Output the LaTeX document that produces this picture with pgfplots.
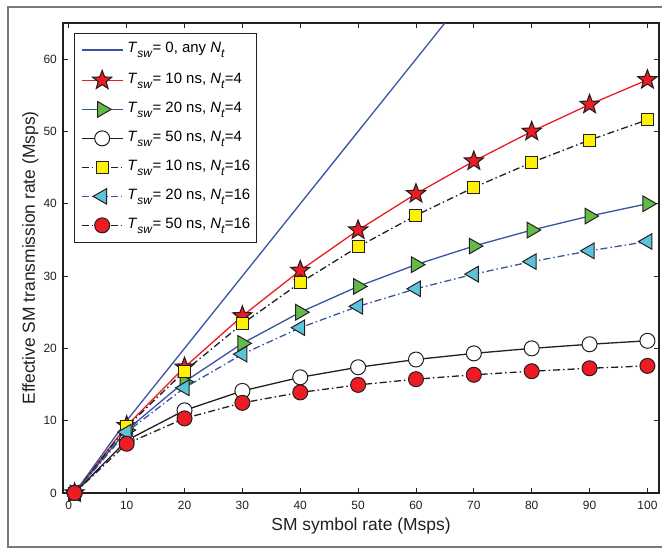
\documentclass[border=0pt]{standalone}
\usepackage{fontspec}
\setmainfont{Liberation Sans}
\usepackage{pgfplots}
\pgfplotsset{compat=1.18}

\definecolor{mblue}{HTML}{3953A4}
\definecolor{mred}{HTML}{ED1C24}
\definecolor{mgreen}{HTML}{62BB47}
\definecolor{mcyan}{HTML}{5CC4DA}
\definecolor{myellow}{HTML}{FFF200}
\definecolor{medge}{HTML}{231F20}
\definecolor{mframe}{HTML}{7A7A7A}

\pgfdeclareplotmark{fstar}{%
  \pgfpathmoveto{\pgfpointpolar{90}{\pgfplotmarksize}}%
  \pgfpathlineto{\pgfpointpolar{126}{0.42\pgfplotmarksize}}%
  \pgfpathlineto{\pgfpointpolar{162}{\pgfplotmarksize}}%
  \pgfpathlineto{\pgfpointpolar{198}{0.42\pgfplotmarksize}}%
  \pgfpathlineto{\pgfpointpolar{234}{\pgfplotmarksize}}%
  \pgfpathlineto{\pgfpointpolar{270}{0.42\pgfplotmarksize}}%
  \pgfpathlineto{\pgfpointpolar{306}{\pgfplotmarksize}}%
  \pgfpathlineto{\pgfpointpolar{342}{0.42\pgfplotmarksize}}%
  \pgfpathlineto{\pgfpointpolar{18}{\pgfplotmarksize}}%
  \pgfpathlineto{\pgfpointpolar{54}{0.42\pgfplotmarksize}}%
  \pgfpathclose
  \pgfusepathqfillstroke
}

\newcommand{\sub}[1]{\raisebox{-5bp}{\fontsize{12}{12}\selectfont\textit{#1}}}
\newcommand{\Tsw}{\textit{T}\sub{sw}}
\newcommand{\Nt}{\textit{N}\sub{t}}

\pgfplotstableread{
x s1 s2 s3 s4 s5 s6 s0
1   0     0     0     0     0     0     0
10  9.30  8.70  7.27  9.14  8.42  6.81  10
20  17.39 15.38 11.43 16.84 14.55 10.32 20
30  24.49 20.69 14.12 23.41 19.20 12.47 30
40  30.77 25.00 16.00 29.09 22.86 13.91 40
50  36.36 28.57 17.39 34.04 25.81 14.95 50
60  41.38 31.58 18.46 38.40 28.24 15.74 60
70  45.90 34.15 19.31 42.26 30.27 16.35 70
80  50.00 36.36 20.00 45.71 32.00 16.84 80
90  53.73 38.30 20.57 48.81 33.49 17.25 90
100 57.14 40.00 21.05 51.61 34.78 17.58 100
}\datatab

\begin{document}
\begin{tikzpicture}
\useasboundingbox (-63bp,-55bp) rectangle (599bp,493bp);
\draw[mframe, line width=1.4bp] (-55bp,-54bp) rectangle (610bp,486bp);
\begin{axis}[
  at={(0,0)}, anchor=south west,
  scale only axis, width=596bp, height=470bp,
  xmin=-1, xmax=102, ymin=0, ymax=65,
  xtick={0,10,...,100}, ytick={0,10,...,60},
  tick align=inside, major tick length=5bp,
  axis line style={draw=medge, line width=1.1bp},
  every tick/.style={draw=medge, line width=0.9bp},
  /pgf/number format/assume math mode=true,
  tick label style={font=\fontsize{12}{13}\selectfont, text=medge},
  xticklabel style={anchor=base, inner sep=0pt, yshift=-16bp},
  yticklabel style={anchor=east, inner sep=0pt, xshift=-6bp},
  label style={font=\fontsize{17.5}{20}\selectfont, text=medge},
  xlabel={SM symbol rate (Msps)},
  ylabel={Effective SM transmission rate (Msps)},
  xlabel style={at={(axis description cs:0.5,0)}, anchor=base, inner sep=0pt, yshift=-37bp},
  ylabel style={at={(axis description cs:-0.047,0.5)}, anchor=base, inner sep=0pt},
  clip mode=individual,
  legend cell align=left,
  legend image code/.code={\draw[mark repeat=2,mark phase=2,#1] plot coordinates {(0bp,0bp) (20.5bp,0bp) (41bp,0bp)};\path (45bp,0bp);},
  legend style={
    at={(axis description cs:0.0185,0.979)}, anchor=north west,
    draw=medge, line width=1.0bp,
    font=\fontsize{15}{18}\selectfont,
    inner xsep=6.5bp, inner ysep=8bp,
    row sep=11.5bp,
    nodes={inner sep=0pt, text height=11.5bp, text depth=6bp},
  },
]
\addplot[mblue, line width=1.3bp, no marks] table[x=x,y=s0]{\datatab};
\addlegendentry{\Tsw= 0, any \Nt}
\addplot[mred, line width=1.3bp, mark=fstar, mark size=10bp,
  mark options={solid, fill=mred, draw=medge, line width=1.1bp}] table[x=x,y=s1]{\datatab};
\addlegendentry{\Tsw= 10 ns, \Nt=4}
\addplot[mblue, line width=1.3bp, mark=triangle*, mark size=9bp,
  mark options={solid, rotate=-90, fill=mgreen, draw=medge, line width=1bp}] table[x=x,y=s2]{\datatab};
\addlegendentry{\Tsw= 20 ns, \Nt=4}
\addplot[medge, line width=1.3bp, mark=*, mark size=7.5bp,
  mark options={solid, fill=white, draw=medge, line width=1bp}] table[x=x,y=s3]{\datatab};
\addlegendentry{\Tsw= 50 ns, \Nt=4}
\addplot[medge, line width=1.3bp, dash pattern=on 7bp off 3bp on 1.5bp off 3bp, mark=square*, mark size=6bp,
  mark options={solid, fill=myellow, draw=medge, line width=1bp}] table[x=x,y=s4]{\datatab};
\addlegendentry{\Tsw= 10 ns, \Nt=16}
\addplot[mblue, line width=1.3bp, dash pattern=on 7bp off 3bp on 1.5bp off 3bp, mark=triangle*, mark size=9bp,
  mark options={solid, rotate=90, fill=mcyan, draw=medge, line width=1bp}] table[x=x,y=s5]{\datatab};
\addlegendentry{\Tsw= 20 ns, \Nt=16}
\addplot[medge, line width=1.3bp, dash pattern=on 7bp off 3bp on 1.5bp off 3bp, mark=*, mark size=7.5bp,
  mark options={solid, fill=mred, draw=medge, line width=1bp}] table[x=x,y=s6]{\datatab};
\addlegendentry{\Tsw= 50 ns, \Nt=16}
\end{axis}
\end{tikzpicture}
\end{document}
